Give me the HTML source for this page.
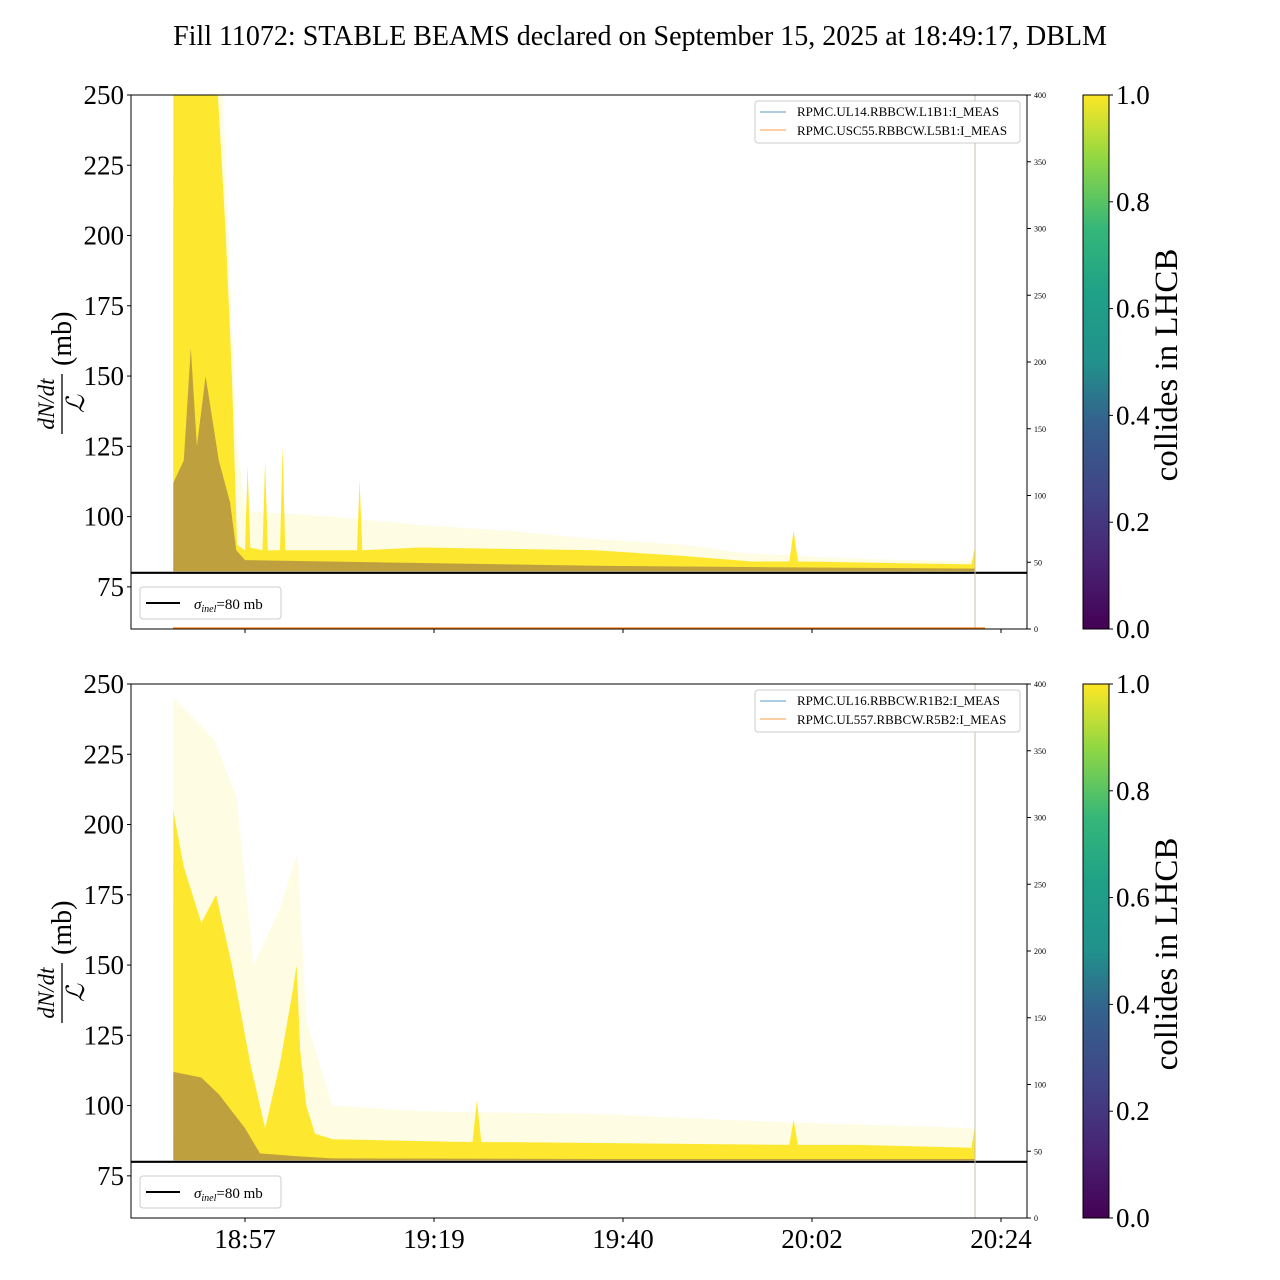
<!DOCTYPE html>
<html><head><meta charset="utf-8"><style>
html,body{margin:0;padding:0;background:#fff;}
svg{display:block;font-family:"Liberation Serif",serif;}
</style></head><body>
<svg id="chart" width="1280" height="1280" viewBox="0 0 1280 1280">
<defs>
<linearGradient id="viridis" x1="0" y1="1" x2="0" y2="0">
<stop offset="0" stop-color="#440154"/><stop offset="0.13" stop-color="#482475"/><stop offset="0.25" stop-color="#414487"/><stop offset="0.38" stop-color="#355f8d"/><stop offset="0.5" stop-color="#21918c"/><stop offset="0.63" stop-color="#1fa187"/><stop offset="0.75" stop-color="#35b779"/><stop offset="0.88" stop-color="#90d743"/><stop offset="1" stop-color="#fde725"/>
</linearGradient>
</defs>
<text x="640" y="45" text-anchor="middle" font-size="28">Fill 11072: STABLE BEAMS declared on September 15, 2025 at 18:49:17, DBLM</text>
<g id="panels"></g>
</svg>
<script>
// x in minutes relative to 18:57
const xTickLabels = ["18:57","19:19","19:40","20:02","20:24"];
const xTickMinutes = [0, 21.6, 43.2, 64.8, 86.4];
const yTicks = [75,100,125,150,175,200,225,250];
const rightTicks = [0,50,100,150,200,250,300,350,400];
const cbTicks = ["0.0","0.2","0.4","0.6","0.8","1.0"];

// top panel (B1)
const topT      = [-8.2,-3.1,-2.2,-1.5,-0.9,0,0.3,0.6,2.0,2.3,2.6,4.0,4.3,4.6,6,12.8,13.1,13.4,20,30,40,50,57.9,62.2,62.7,63.2,64,83,83.4];
const topDense  = [250,250,200,150,90,88,118,89,88,120,88,88,125,88,88,88,113,88,89,88.5,88,86,84,84,95,84,84,83,89];
const topFaintT = [-8.2,-2.5,-1,0,10,20,30,40,50,57,70,83.4];
const topFaint  = [250,250,130,102,100,97,95,92,90,87,85,84];
const topPurpT  = [-8.2,-7,-6.2,-5.5,-4.5,-4,-3,-1.7,-1,0,20,40,60,83.4];
const topPurp   = [112,120,160,125,150,140,120,105,88,84.5,83.5,82.5,82,81.5];

// bottom panel (B2)
const botT      = [-8.2,-7,-5,-3.3,-1.5,-0.6,0.6,2.3,4,5.4,5.9,6.3,7,8,10,26,26.5,27,30,62.2,62.7,63.2,70,83,83.4];
const botDense  = [205,185,165,175,150,135,115,92,115,140,150,120,100,90,88,87,102,87,87,86,95,86,86,85,92];
const botFaintT = [-8.2,-5,-3.5,-1,1,4,6,7,10,20,40,62,83.4];
const botFaint  = [245,235,230,210,150,170,190,130,100,98,97,94,92];
const botPurpT  = [-8.2,-5,-3,0,1.7,6,10,40,83.4];
const botPurp   = [112,110,104,92,83,82,81.2,81,81];

const NS="http://www.w3.org/2000/svg";
const root=document.getElementById('panels');
function mk(tag,attrs,parent){const e=document.createElementNS(NS,tag);for(const k in attrs)e.setAttribute(k,attrs[k]);(parent||root).appendChild(e);return e;}

const X0=131,X1=1027;
const xs=m=>245+m*(189/21.6);

function panel(top,idx,d){
  const bot=top+534;
  const ys=v=>top+(250-v)*(534/190);
  const yr=v=>bot-v*(534/400);
  const g=mk('g',{});
  
  
  function area(T,V,fill,op,name){
    let p='M'+xs(T[0])+','+ys(80.5);
    for(let i=0;i<T.length;i++)p+=' L'+xs(T[i]).toFixed(1)+','+ys(Math.min(V[i],250)).toFixed(1);
    p+=' L'+xs(T[T.length-1])+','+ys(80.5)+' Z';
    const e=mk('path',{d:p,fill:fill,'fill-opacity':op},g);
    
    
  }
  area(d.fT,d.f,'#fde725',0.12,'faint-traces');
  area(d.t,d.d,'#fde725',0.95,'dense-traces');
  area(d.pT,d.p,'#4a1a5c',0.35,'non-colliding-traces');
  const sl=mk('line',{x1:X0,x2:X1,y1:ys(80),y2:ys(80),stroke:'#000','stroke-width':2.2},g);
  
  
  const vl=mk('line',{x1:975,x2:975,y1:top,y2:bot,stroke:'#c8c2a8','stroke-width':1},g);
  
  
  if(idx===1){
    const ol=mk('line',{x1:173,x2:985,y1:bot-1,y2:bot-1,stroke:'#ff7f0e','stroke-width':1.2},g);
    
    
  }
  const fr=mk('rect',{x:X0,y:top,width:X1-X0,height:bot-top,fill:'none',stroke:'#000','stroke-width':1},g);
  
  
  yTicks.forEach(v=>{
    mk('line',{x1:X0-4,x2:X0,y1:ys(v),y2:ys(v),stroke:'#000'},g);
    const t=mk('text',{x:X0-7,y:ys(v)+9,'text-anchor':'end','font-size':27},g);
    t.textContent=v;
    
    
  });
  rightTicks.forEach(v=>{
    mk('line',{x1:X1,x2:X1+4,y1:yr(v),y2:yr(v),stroke:'#000'},g);
    const t=mk('text',{x:X1+7,y:yr(v)+3,'font-size':8},g);
    t.textContent=v;
    
    
  });
  xTickMinutes.forEach((m,i)=>{
    mk('line',{x1:xs(m),x2:xs(m),y1:bot,y2:bot+4,stroke:'#000'},g);
    if(idx===2){
      const t=mk('text',{x:xs(m),y:bot+30,'text-anchor':'middle','font-size':27},g);
      t.textContent=xTickLabels[i];
      
      
    }
  });
  const yl=mk('g',{transform:`translate(62,${top+267}) rotate(-90)`},g);
  
  
  const a=mk('text',{x:-42,y:-8,'text-anchor':'middle','font-size':23,'font-style':'italic'},yl);a.textContent='dN/dt';
  mk('line',{x1:-72,x2:-12,y1:0,y2:0,stroke:'#000','stroke-width':1.3},yl);
  const b=mk('text',{x:-42,y:22,'text-anchor':'middle','font-size':25,'font-style':'italic'},yl);b.textContent='ℒ';
  const c=mk('text',{x:-4,y:9,'font-size':28},yl);c.textContent='(mb)';
  const lg=mk('g',{},g);
  
  
  mk('rect',{x:140,y:bot-42,width:141,height:32,rx:3,fill:'#fff',stroke:'#ccc'},lg);
  mk('line',{x1:146,x2:180,y1:bot-26,y2:bot-26,stroke:'#000','stroke-width':2},lg);
  const lt=mk('text',{x:194,y:bot-20,'font-size':15},lg);
  lt.innerHTML='<tspan font-style="italic">σ</tspan><tspan font-style="italic" font-size="10" dy="3">inel</tspan><tspan dy="-3">=80 mb</tspan>';
  const rg=mk('g',{},g);
  
  
  mk('rect',{x:755,y:top+6,width:265,height:42,rx:3,fill:'#fff',stroke:'#ccc'},rg);
  mk('line',{x1:760,x2:786,y1:top+17,y2:top+17,stroke:'#1f77b4','stroke-width':0.8},rg);
  mk('line',{x1:760,x2:786,y1:top+35,y2:top+35,stroke:'#ff7f0e','stroke-width':0.8},rg);
  const n1=mk('text',{x:797,y:top+21,'font-size':13},rg);n1.textContent=d.l1;
  const n2=mk('text',{x:797,y:top+40,'font-size':13},rg);n2.textContent=d.l2;
  const cb=mk('g',{},g);
  
  
  mk('rect',{x:1083,y:top,width:26,height:bot-top,fill:'url(#viridis)',stroke:'#000','stroke-width':1},cb);
  cbTicks.forEach((s,i)=>{
    const y=bot-i*(bot-top)/5;
    mk('line',{x1:1109,x2:1113,y1:y,y2:y,stroke:'#000'},cb);
    const t=mk('text',{x:1116,y:y+9,'font-size':27},cb);t.textContent=s;
  });
  const cl=mk('text',{x:0,y:0,'font-size':33,'text-anchor':'middle',transform:`translate(1177,${top+270}) rotate(-90)`},cb);
  cl.textContent='collides in LHCB';
  
  
}
panel(95,1,{t:topT,d:topDense,fT:topFaintT,f:topFaint,pT:topPurpT,p:topPurp,l1:'RPMC.UL14.RBBCW.L1B1:I_MEAS',l2:'RPMC.USC55.RBBCW.L5B1:I_MEAS'});
panel(684,2,{t:botT,d:botDense,fT:botFaintT,f:botFaint,pT:botPurpT,p:botPurp,l1:'RPMC.UL16.RBBCW.R1B2:I_MEAS',l2:'RPMC.UL557.RBBCW.R5B2:I_MEAS'});
</script>
</body></html>
